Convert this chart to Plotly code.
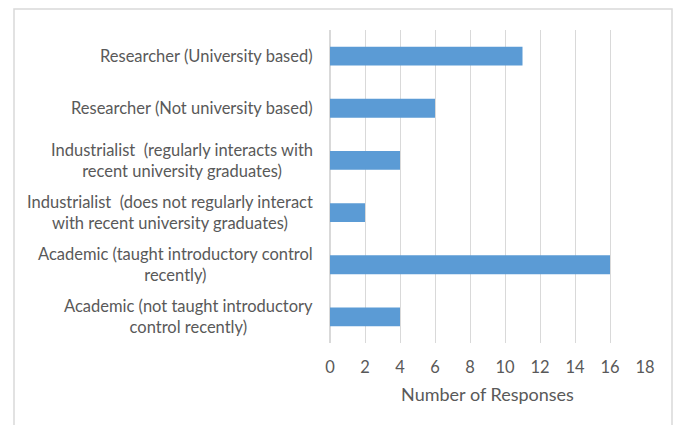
import plotly.graph_objects as go

categories = [
    "Researcher (University based)",
    "Researcher (Not university based)",
    "Industrialist  (regularly interacts with<br>recent university graduates)",
    "Industrialist  (does not regularly interact<br>with recent university graduates)",
    "Academic (taught introductory control<br>recently)",
    "Academic (not taught introductory<br>control recently)",
]
responses = [11, 6, 4, 2, 16, 4]
x_ticks = [0, 2, 4, 6, 8, 10, 12, 14, 16, 18]

W, H = 675, 425
ml, mr, mt, mb = 330, 30, 30, 82
pw, ph = W - ml - mr, H - mt - mb

fig = go.Figure(go.Bar(
    x=responses, y=categories, orientation="h",
    marker=dict(color="#5B9BD5", line=dict(width=0)),
    width=0.36,
))

fig.update_layout(
    width=W, height=H,
    margin=dict(l=ml, r=mr, t=mt, b=mb),
    paper_bgcolor="white", plot_bgcolor="white",
    font=dict(family="Lato, Carlito, sans-serif", size=16, color="#595959"),
    showlegend=False,
    xaxis=dict(
        range=[0, 18], tickvals=x_ticks, showgrid=True, gridcolor="#D9D9D9",
        gridwidth=1, zeroline=True, zerolinecolor="#D9D9D9", showline=False,
        ticks="", tickfont=dict(size=16.5), ticklabelstandoff=12,
        title=dict(text="Number of Responses", font=dict(size=18), standoff=12),
    ),
    yaxis=dict(
        autorange="reversed", showgrid=False, zeroline=False, showline=False,
        ticks="", showticklabels=False,
    ),
)

for cat in categories:
    fig.add_annotation(
        x=(315 - ml) / pw, xref="paper", y=cat, yref="y",
        text=cat, showarrow=False, xanchor="right", align="center",
        font=dict(size=16.5, color="#595959"),
    )

fig.add_shape(
    type="rect", xref="paper", yref="paper",
    x0=(14 - ml) / pw, x1=(672 - ml) / pw,
    y0=(H - mb - 440) / ph, y1=(H - mb - 9) / ph,
    line=dict(color="#D9D9D9", width=1.5), fillcolor="rgba(0,0,0,0)", layer="below",
)

fig.write_html("out.html")
